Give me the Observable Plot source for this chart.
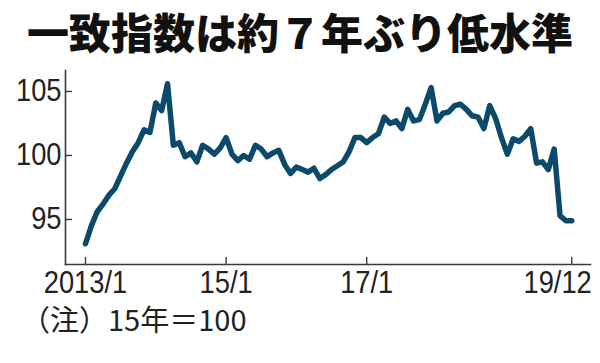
<!DOCTYPE html>
<html>
<head>
<meta charset="utf-8">
<script src="https://cdn.jsdelivr.net/npm/d3@7"></script>
<script src="https://cdn.jsdelivr.net/npm/@observablehq/plot@0.6"></script>
<style>
  html, body { margin: 0; padding: 0; background: #fff; }
  #wrap { position: relative; width: 600px; height: 363px; overflow: hidden; }
  #title { position: absolute; left: 0; top: 0; width: 600px; text-align: center; white-space: nowrap;
    font-family: "Noto Sans CJK JP", sans-serif; font-weight: 900; font-size: 42px; line-height: normal; color: #111; }
  #chart { position: absolute; left: 0; top: 60px; }
  #note { position: absolute; left: 21px; top: 300px; white-space: nowrap; font-family: "Noto Sans CJK JP", sans-serif; font-size: 29px; line-height: 36px; color: #222; }
</style>
</head>
<body>
<div id="wrap">
  <div id="title">一致指数は約７年ぶり低水準</div>
  <div id="chart"></div>
  <div id="note">（注）15年＝100</div>
</div>
<script>
// Monthly coincident index, 2013/1 .. 2019/12 (index 0 = 2013/1)
const values = [
  93.1, 94.5, 95.6, 96.2, 96.9, 97.4, 98.4, 99.4, 100.3, 101.0, 102.0, 101.8,
  104.1, 103.5, 105.6, 100.8, 101.0, 99.9, 100.2, 99.5, 100.8, 100.5, 100.1, 100.6,
  101.4, 100.1, 99.6, 100.0, 99.7, 100.8, 100.5, 99.9, 100.2, 100.4, 99.3, 98.6,
  99.1, 98.9, 98.7, 99.0, 98.2, 98.5, 98.9, 99.2, 99.5, 100.3, 101.4, 101.4,
  101.0, 101.4, 101.7, 103.0, 102.5, 102.7, 102.1, 103.6, 102.7, 102.8, 104.0, 105.3,
  102.7, 103.3, 103.4, 103.9, 104.0, 103.6, 103.1, 103.0, 102.1, 103.9, 102.9, 101.4,
  100.1, 101.3, 101.1, 101.5, 102.1, 99.4, 99.5, 98.9, 100.5, 95.3, 94.9, 94.9
];
const tickMonths = [0, 24, 48, 83];
const tickLabels = ["2013/1", "15/1", "17/1", "19/12"];
const yTicks = [95, 100, 105];

const data = values.map((v, i) => ({month: i, value: v}));
const labelOf = new Map(tickMonths.map((m, i) => [m, tickLabels[i]]));

const numFont = "'Liberation Sans', Arial, sans-serif";
const axisColor = "#3a3a3a";
const fs = 31;

const chart = Plot.plot({
  width: 600,
  height: 240,
  marginLeft: 65,
  marginRight: 10,
  marginTop: 10,
  marginBottom: 36,
  style: {fontFamily: numFont, fontSize: fs + "px", color: "#222", background: "transparent", overflow: "visible"},
  x: {domain: [-3.41, 86.2], axis: null},
  y: {domain: [91.48, 106.64], axis: null},
  marks: [
    Plot.frame({anchor: "left", stroke: axisColor, strokeWidth: 1.6}),
    Plot.frame({anchor: "bottom", stroke: axisColor, strokeWidth: 1.6}),
    Plot.axisY({ticks: yTicks, tickSize: -7, fill: "none", stroke: axisColor, strokeWidth: 1.4, label: null}),
    Plot.axisY({ticks: yTicks, tickSize: 0, tickPadding: 4, fill: "#222", fontSize: fs, label: null}),
    Plot.axisX({ticks: tickMonths, tickSize: -7, fill: "none", stroke: axisColor, strokeWidth: 1.4, label: null}),
    Plot.axisX({ticks: tickMonths.slice(0, 3), tickSize: 0, tickPadding: 6, tickFormat: d => labelOf.get(d), fill: "#222", fontSize: fs, label: null}),
    Plot.axisX({ticks: tickMonths.slice(3), tickSize: 0, tickPadding: 6, textAnchor: "end", dx: 20, tickFormat: d => labelOf.get(d), fill: "#222", fontSize: fs, label: null}),
    Plot.lineY(data, {x: "month", y: "value", stroke: "#0c4a6c", strokeWidth: 5.5, strokeLinejoin: "round", strokeLinecap: "round"})
  ]
});

// condense the numeric tick labels horizontally (the reference uses a condensed face)
chart.querySelectorAll('g[aria-label$="tick label"] text').forEach(t => {
  const tr = t.getAttribute("transform");
  if (tr) {
    t.setAttribute("transform", tr + " scale(0.88,1)");
  } else {
    const x = +t.getAttribute("x") || 0, y = +t.getAttribute("y") || 0;
    t.removeAttribute("x"); t.removeAttribute("y");
    t.setAttribute("transform", `translate(${x},${y}) scale(0.88,1)`);
  }
});

document.getElementById("chart").appendChild(chart);
</script>
</body>
</html>
